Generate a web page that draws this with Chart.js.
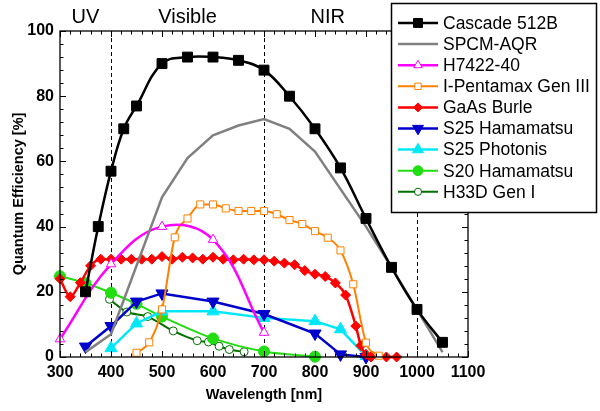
<!DOCTYPE html>
<html>
<head>
<meta charset="utf-8">
<title>Quantum Efficiency</title>
<style>
  html, body { margin: 0; padding: 0; background: #fff; }
</style>
</head>
<body>
<canvas id="qeChart" width="600" height="411"></canvas>
<script src="https://cdn.jsdelivr.net/npm/chart.js@4/dist/chart.umd.min.js"></script>
<script>
// values
const cascadeNm = [350, 375, 400, 425, 450, 500, 550, 600, 650, 700, 750, 800, 850, 900, 950, 1000, 1050];
const cascadeQE = [20, 40, 57, 70, 77, 90, 92, 92, 91, 88, 80, 70, 58, 42.5, 27.5, 14.6, 4.5];

const spcmNm = [350, 400, 500, 550, 600, 650, 700, 750, 800, 900, 950, 1000, 1050];
const spcmQE = [1.5, 7, 49, 61, 68, 71, 73, 70, 63, 40, 27.5, 14.5, 1.5];

const h7422Nm = [300, 400, 500, 600, 700];
const h7422QE = [5.5, 28.5, 40, 36, 7.5];

const pentamaxNm = [450, 475, 500, 525, 550, 575, 600, 625, 650, 675, 700, 725, 750, 775, 800, 825, 850, 875, 900, 925];
const pentamaxQE = [1.3, 4.5, 14.6, 36.7, 42.5, 46.8, 46.8, 45.6, 44.8, 44.8, 44.8, 43.8, 42, 40.8, 38.6, 36.6, 32.7, 22.3, 4.4, 0.4];

const gaasNm = [300, 320, 340, 360, 380, 400, 420, 440, 460, 480, 500, 520, 540, 560, 580, 600, 620, 640, 660, 680,
  700, 720, 740, 760, 780, 800, 820, 840, 860, 880, 890, 900, 910, 940, 960];
const gaasQE = [24, 18.5, 22.8, 28, 30, 30, 30, 30, 30, 30, 30.8, 30, 30.6, 30.4, 30, 30.6, 30, 29.8, 30, 29.8,
  29.8, 29.4, 28.8, 28.3, 26.5, 25.4, 24.7, 22.7, 19, 9.5, 3.5, 0.8, 0, 0, 0];

const s25hNm = [350, 400, 450, 500, 600, 700, 800, 850, 900];
const s25hQE = [3.2, 9.5, 17, 19.5, 17, 13.2, 7.2, 0.8, 0];

const s25pNm = [400, 450, 500, 600, 700, 800, 850, 900];
const s25pQE = [2.7, 10.3, 14, 14, 12, 11, 8.5, 0.3];

const s20Nm = [300, 350, 400, 450, 500, 600, 700, 800];
const s20QE = [24.8, 22.7, 19.7, 16.3, 12.4, 5.7, 1.7, 0.1];

const h33dNm = [397, 431, 472, 522, 569, 591, 612, 632, 661];
const h33dQE = [17.7, 13.8, 12.4, 8, 5, 4.6, 3.3, 2.3, 1.6];

const xTicks = [300, 400, 500, 600, 700, 800, 900, 1000, 1100];
const yTicks = [0, 20, 40, 60, 80, 100];
const bandEdges = [400, 700, 1000];
const bandNames = ["UV", "Visible", "NIR"];
const bandCenters = [350, 550, 825];

const toPoints = (xs, ys) => xs.map((v, i) => ({ x: v, y: ys[i] }));

function series(label, xs, ys, color, opts) {
  return Object.assign({
    label: label,
    data: toPoints(xs, ys),
    borderColor: color,
    backgroundColor: color,
    pointBorderColor: color,
    pointBackgroundColor: color,
    borderWidth: 2.5,
    pointBorderWidth: 1,
    tension: 0,
    clip: 8,
  }, opts);
}

const datasets = [
  series("Cascade 512B", cascadeNm, cascadeQE, "#000000", { pointStyle: "rect", pointRadius: 7, tension: 0.4 }),
  series("SPCM-AQR", spcmNm, spcmQE, "#808080", { pointRadius: 0 }),
  series("H7422-40", h7422Nm, h7422QE, "#ff00ff", { pointStyle: "triangle", pointRadius: 5.5, pointBackgroundColor: "#ffffff", tension: 0.4 }),
  series("I-Pentamax Gen III", pentamaxNm, pentamaxQE, "#ff8000", { pointStyle: "rect", pointRadius: 5, pointBackgroundColor: "#ffffff", borderWidth: 2, cubicInterpolationMode: "monotone" }),
  series("GaAs Burle", gaasNm, gaasQE, "#ff0000", { pointStyle: "rectRot", pointRadius: 5, cubicInterpolationMode: "monotone" }),
  series("S25 Hamamatsu", s25hNm, s25hQE, "#0000cc", { pointStyle: "triangle", pointRotation: 180, pointRadius: 7 }),
  series("S25 Photonis", s25pNm, s25pQE, "#00e8f8", { pointStyle: "triangle", pointRadius: 7 }),
  series("S20 Hamamatsu", s20Nm, s20QE, "#22dd11", { pointStyle: "circle", pointRadius: 5.5, borderWidth: 2, tension: 0.3 }),
  series("H33D Gen I", h33dNm, h33dQE, "#007000", { pointStyle: "circle", pointRadius: 4, pointBackgroundColor: "#ffffff", borderWidth: 2, tension: 0.3 }),
];

// little marker painter for the boxed legend
function marker(ctx, ds, cx, cy, s) {
  const style = ds.pointStyle;
  const r = (ds.pointRadius || 0) * s;
  if (!r) return;
  ctx.save();
  ctx.fillStyle = ds.pointBackgroundColor;
  ctx.strokeStyle = ds.pointBorderColor;
  ctx.lineWidth = 1;
  ctx.beginPath();
  if (style === "rect") {
    const h = r * Math.SQRT1_2;
    ctx.rect(cx - h, cy - h, 2 * h, 2 * h);
  } else if (style === "rectRot") {
    ctx.moveTo(cx, cy - r); ctx.lineTo(cx + r, cy); ctx.lineTo(cx, cy + r); ctx.lineTo(cx - r, cy); ctx.closePath();
  } else if (style === "triangle") {
    const d = ds.pointRotation ? -1 : 1;
    for (let k = 0; k < 3; k++) {
      const a = k * 2 * Math.PI / 3;
      const px = cx + Math.sin(a) * r, py = cy - d * Math.cos(a) * r;
      k ? ctx.lineTo(px, py) : ctx.moveTo(px, py);
    }
    ctx.closePath();
  } else {
    ctx.arc(cx, cy, r, 0, Math.PI * 2);
  }
  ctx.fill();
  ctx.stroke();
  ctx.restore();
}

const framePlugin = {
  id: "frameTicksLegend",
  beforeDatasetsDraw(chart) {
    const { ctx, chartArea: a, scales: { x } } = chart;
    ctx.save();
    ctx.strokeStyle = "#000";
    ctx.lineWidth = 1;
    ctx.setLineDash([4, 3]);
    bandEdges.forEach((nm) => {
      const px = Math.round(x.getPixelForValue(nm)) + 0.5;
      ctx.beginPath();
      ctx.moveTo(px, a.top);
      ctx.lineTo(px, a.bottom);
      ctx.stroke();
    });
    ctx.restore();
  },
  afterDatasetsDraw(chart) {
    const { ctx, chartArea: a, scales: { x, y } } = chart;
    ctx.save();
    ctx.strokeStyle = "#000";
    ctx.lineWidth = 1.3;
    ctx.strokeRect(a.left, a.top, a.right - a.left, a.bottom - a.top);
    ctx.lineWidth = 1;
    ctx.beginPath();
    for (let nm = 300; nm <= 1100; nm += 20) {
      const px = Math.round(x.getPixelForValue(nm)) + 0.5;
      const len = nm % 100 === 0 ? 6 : 3.5;
      ctx.moveTo(px, a.bottom); ctx.lineTo(px, a.bottom - len);
      ctx.moveTo(px, a.top); ctx.lineTo(px, a.top + len);
    }
    for (let v = 0; v <= 100; v += 4) {
      const py = Math.round(y.getPixelForValue(v)) + 0.5;
      const len = v % 20 === 0 ? 6 : 3.5;
      ctx.moveTo(a.left, py); ctx.lineTo(a.left + len, py);
      ctx.moveTo(a.right, py); ctx.lineTo(a.right - len, py);
    }
    ctx.stroke();

    // region names above the frame
    ctx.fillStyle = "#000";
    ctx.font = "20px 'Liberation Sans', Arial, sans-serif";
    ctx.textAlign = "center";
    ctx.textBaseline = "alphabetic";
    bandNames.forEach((name, i) => {
      ctx.fillText(name, x.getPixelForValue(bandCenters[i]), 23);
    });
    ctx.restore();
  },
  afterDraw(chart) {
    const { ctx } = chart;
    const box = { left: 391.5, top: 3.5, width: 205, height: 209 };
    ctx.save();
    ctx.fillStyle = "#fff";
    ctx.fillRect(box.left, box.top, box.width, box.height);
    ctx.strokeStyle = "#000";
    ctx.lineWidth = 1.5;
    ctx.strokeRect(box.left, box.top, box.width, box.height);
    ctx.font = "17.5px 'Liberation Sans', Arial, sans-serif";
    ctx.textBaseline = "middle";
    ctx.textAlign = "left";
    chart.data.datasets.forEach((ds, i) => {
      const cy = 23 + i * 21.1;
      ctx.strokeStyle = ds.borderColor;
      ctx.lineWidth = ds.borderWidth;
      ctx.beginPath();
      ctx.moveTo(398, cy);
      ctx.lineTo(438, cy);
      ctx.stroke();
      marker(ctx, ds, 418, cy, 0.9);
      ctx.fillStyle = "#000";
      ctx.fillText(ds.label, 443, cy + 1);
    });
    ctx.restore();
  },
};

const tickFont = { family: "'Liberation Sans', Arial, sans-serif", size: 16, weight: "bold" };
const titleFont = { family: "'Liberation Sans', Arial, sans-serif", size: 14.5, weight: "bold" };

new Chart(document.getElementById("qeChart"), {
  type: "line",
  data: { datasets: datasets },
  options: {
    responsive: false,
    animation: false,
    layout: { padding: { left: 0, top: 31, right: 132, bottom: 0 } },
    plugins: {
      legend: { display: false },
      tooltip: { enabled: false },
    },
    scales: {
      x: {
        type: "linear",
        min: 300,
        max: 1100,
        afterFit: (scale) => { scale.height = 54; },
        afterBuildTicks: (scale) => { scale.ticks = xTicks.map((v) => ({ value: v })); },
        grid: { display: false, drawTicks: false },
        border: { display: false },
        ticks: { color: "#000", font: tickFont, padding: 6, maxRotation: 0, callback: (v) => String(v) },
        title: { display: true, text: "Wavelength [nm]", color: "#000", font: titleFont, padding: { top: 0, bottom: 7 } },
      },
      y: {
        type: "linear",
        min: 0,
        max: 100,
        afterFit: (scale) => { scale.width = 60; },
        afterBuildTicks: (scale) => { scale.ticks = yTicks.map((v) => ({ value: v })); },
        grid: { display: false, drawTicks: false },
        border: { display: false },
        ticks: { color: "#000", font: tickFont, padding: 6, callback: (v) => String(v) },
        title: { display: true, text: "Quantum Efficiency [%]", color: "#000", font: titleFont, padding: { top: 10, bottom: 0 } },
      },
    },
  },
  plugins: [framePlugin],
});
</script>
</body>
</html>
